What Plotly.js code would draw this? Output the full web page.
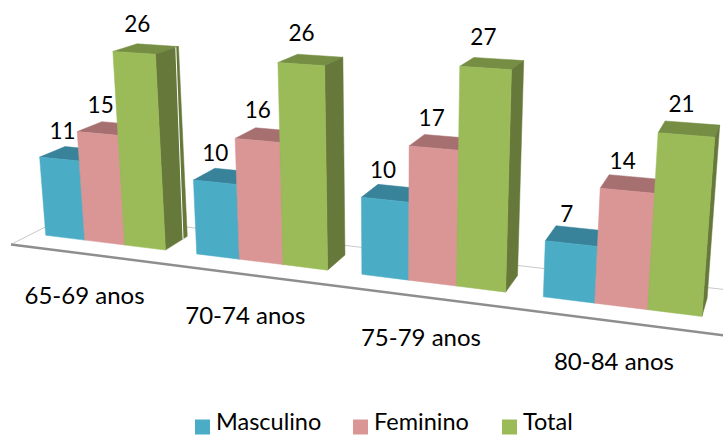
<!DOCTYPE html>
<html><head><meta charset="utf-8"><script src="https://cdn.plot.ly/plotly-3.0.1.min.js"></script>
<style>html,body{margin:0;background:#fff}#c{width:723px;height:438px}</style></head><body><div id="c"></div>
<script>
const categories=["65-69 anos","70-74 anos","75-79 anos","80-84 anos"];
const seriesNames=["Masculino","Feminino","Total"];
const masculino=[11,10,10,7];
const feminino=[15,16,17,14];
const total=[26,26,27,21];
const S=[masculino,feminino,total];
const front=["#4BACC6","#D99694","#9BBB59"],top_=["#38839A","#A66F70","#758E43"],side=["#2F6F82","#8C5E5D","#67793A"];
// perspective camera of the 3-D chart: (slot, value, depth) -> pixel axis coordinates
const cam=[0.81433,-0.02390,0.03869,0.06537,0.07747,-0.49666,-0.01419,0.58821,-0.17191,-0.04276,0.03212];
function P(u,v,w){u/=15;v/=27;const m=cam,d=m[8]*u+m[9]*v+m[10]*w+1;return [700*(m[0]*u+m[1]*v+m[2]*w+m[3])/d,400*(m[4]*u+m[5]*v+m[6]*w+m[7])/d];}
const traces=[];
function poly(pts,color){const q=pts.map(a=>P(a[0],a[1],a[2]));traces.push({type:"scatter",mode:"lines",x:q.map(a=>a[0]).concat(q[0][0]),y:q.map(a=>a[1]).concat(q[0][1]),fill:"toself",fillcolor:color,line:{color:color,width:0.5},hoverinfo:"skip",showlegend:false});}
function line(pts,color,width){const q=pts.map(a=>P(a[0],a[1],a[2]));traces.push({type:"scatter",mode:"lines",x:q.map(a=>a[0]),y:q.map(a=>a[1]),line:{color:color,width:width},hoverinfo:"skip",showlegend:false});}
const uL=-0.35,uR=14.82,wF=-0.8,wB=1.6;
line([[uL,0,wF],[uL,0,wB],[uR,0,wB],[uR+.3,0,wB]],"#c9c9c9",1);
line([[uL,0,wF],[uR,0,wF],[uR+.06,0,wF+.9]],"#8e8e8e",2.5);
categories.forEach((c,g)=>{const U=g*3.75;S.forEach((arr,b)=>{const v=arr[g],a=U+b,e=a+1;
 poly([[a,v,0],[e,v,0],[e,v,1],[a,v,1]],top_[b]);
 poly([[e,0,0],[e,v,0],[e,v,1],[e,0,1]],side[b]);
 if(g==0&&b==2)line([[e,0,.8],[e,v,.88]],"#ffffff",1);
 poly([[a,0,0],[e,0,0],[e,v,0],[a,v,0]],front[b]);
});});
const nudgeX=[-1.5,-4,-6,-8],nudgeY=[0,0,1,3];
S.forEach((arr,b)=>{const q=arr.map((v,g)=>P(g*3.75+b+.5,v+3.2,.25));traces.push({type:"scatter",mode:"text",x:q.map((a,g)=>a[0]+nudgeX[g]),y:q.map((a,g)=>a[1]+nudgeY[g]),text:arr.map(String),textposition:"middle center",textfont:{family:"Lato",size:22.5,color:"#000"},hoverinfo:"skip",showlegend:false});});
const cq=categories.map((c,g)=>P(g*3.75+1.5,0,0));
traces.push({type:"scatter",mode:"text",x:cq.map((a,g)=>a[0]-20+4.3*g),y:cq.map((a,g)=>a[1]+55+g),text:categories,textposition:"middle center",textfont:{family:"Lato",size:24,color:"#000"},hoverinfo:"skip",showlegend:false});
const keyX=[202.5,360.5,509.5];
seriesNames.forEach((n,b)=>{traces.push({type:"scatter",mode:"markers",name:n,x:[keyX[b]],y:[427],marker:{symbol:"square",size:15,color:front[b]},hoverinfo:"skip",showlegend:false});
 traces.push({type:"scatter",mode:"text",x:[keyX[b]+13.5],y:[424.5],text:[n],textposition:"middle right",textfont:{family:"Lato",size:23.5,color:"#000"},hoverinfo:"skip",showlegend:false});});
Plotly.newPlot("c",traces,{width:723,height:438,margin:{l:0,r:0,t:0,b:0},paper_bgcolor:"#fff",plot_bgcolor:"#fff",showlegend:false,
 xaxis:{range:[0,723],visible:false,fixedrange:true},yaxis:{range:[438,0],visible:false,fixedrange:true}},{staticPlot:true});
</script></body></html>
